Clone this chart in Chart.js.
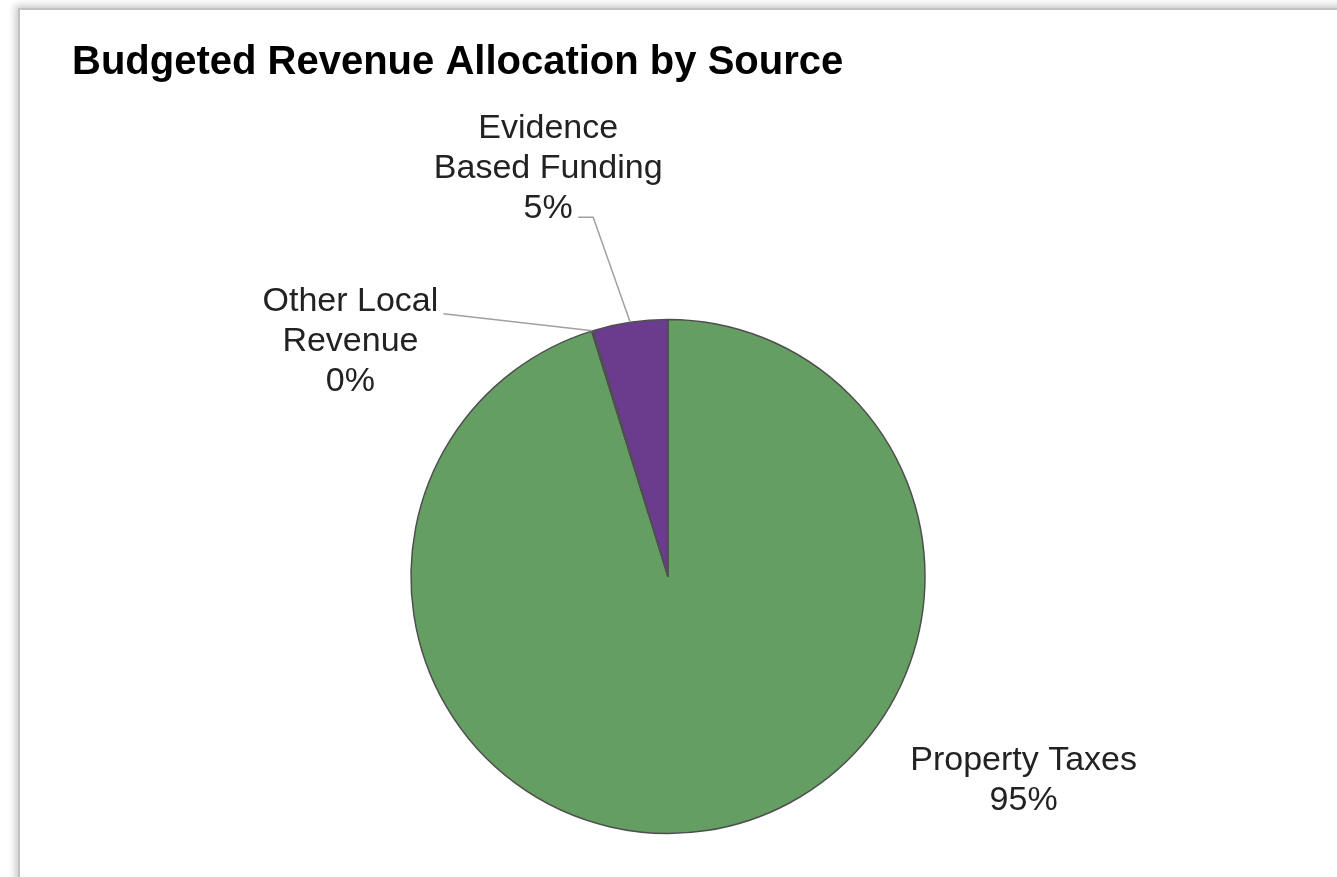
<!DOCTYPE html>
<html>
<head>
<meta charset="utf-8">
<title>Budgeted Revenue Allocation by Source</title>
<script src="https://cdn.jsdelivr.net/npm/chart.js@4"></script>
<style>
  html, body { margin: 0; padding: 0; background: #fff; overflow: hidden; }
  #frame {
    position: absolute; left: 18px; top: 8px; width: 1400px; height: 900px;
    border-left: 2px solid #c2c2c2; border-top: 2px solid #c2c2c2;
    box-shadow: -3px -3px 7px rgba(0,0,0,0.2);
  }
  #wrap { position: absolute; left: 0; top: 0; width: 1337px; height: 877px; }
</style>
</head>
<body>
<div id="frame"></div>
<div id="wrap"><canvas id="myChart" width="1337" height="877"></canvas></div>
<script>
const sources = ['Property Taxes', 'Other Local Revenue', 'Evidence Based Funding'];
const shares = [95.2, 0.1, 4.7];
const sliceColors = ['#659e63', '#6b3b8e', '#6b3b8e'];
// how each label is broken into lines
const labelLines = [['Property Taxes'], ['Other Local', 'Revenue'], ['Evidence', 'Based Funding']];

// label block offsets relative to the slice's outer mid point, plus leader elbows
const labelSpots = [
  { dx: 317, dy: -50, leader: [] },
  { dx: -242, dy: 11, leader: [[-149, -17]] },
  { dx: -82, dy: -154, leader: [[-37, -105], [-52, -105]] }
];

const outsideLabels = {
  id: 'outsideLabels',
  afterDatasetsDraw(chart) {
    const ctx = chart.ctx;
    const meta = chart.getDatasetMeta(0);
    const total = shares.reduce((a, b) => a + b, 0);
    ctx.save();
    meta.data.forEach((arc, i) => {
      const p = arc.getProps(['x', 'y', 'startAngle', 'endAngle', 'outerRadius'], true);
      const mid = (p.startAngle + p.endAngle) / 2;
      const ax = p.x + Math.cos(mid) * p.outerRadius;
      const ay = p.y + Math.sin(mid) * p.outerRadius;
      const spot = labelSpots[i];

      if (spot.leader.length) {
        ctx.strokeStyle = '#a0a0a0';
        ctx.lineWidth = 1.5;
        ctx.beginPath();
        ctx.moveTo(ax, ay);
        spot.leader.forEach(pt => ctx.lineTo(ax + pt[0], ay + pt[1]));
        ctx.stroke();
      }

      const lines = labelLines[i].concat([Math.round(shares[i] / total * 100) + '%']);
      const lh = 40;
      const cx = ax + spot.dx;
      const cy = ay + spot.dy - (lines.length - 1) * lh / 2;
      ctx.fillStyle = '#222';
      ctx.font = '34px "Liberation Sans", Arial, sans-serif';
      ctx.textAlign = 'center';
      ctx.textBaseline = 'middle';
      lines.forEach((t, k) => ctx.fillText(t, cx, cy + k * lh));
    });
    ctx.restore();
  }
};

new Chart(document.getElementById('myChart'), {
  type: 'pie',
  data: {
    labels: sources,
    datasets: [{
      data: shares,
      backgroundColor: sliceColors,
      borderColor: '#4f4f4f',
      borderWidth: 1.5,
      radius: 257
    }]
  },
  options: {
    responsive: false,
    animation: false,
    layout: { padding: { left: 72, right: 73, top: 0, bottom: 0 } },
    plugins: {
      legend: { display: false },
      tooltip: { enabled: false },
      title: {
        display: true,
        text: 'Budgeted Revenue Allocation by Source',
        align: 'start',
        color: '#000',
        font: { family: '"Liberation Sans", Arial, sans-serif', size: 40, weight: 'bold' },
        padding: { top: 39, bottom: 189 }
      }
    }
  },
  plugins: [outsideLabels]
});
</script>
</body>
</html>
